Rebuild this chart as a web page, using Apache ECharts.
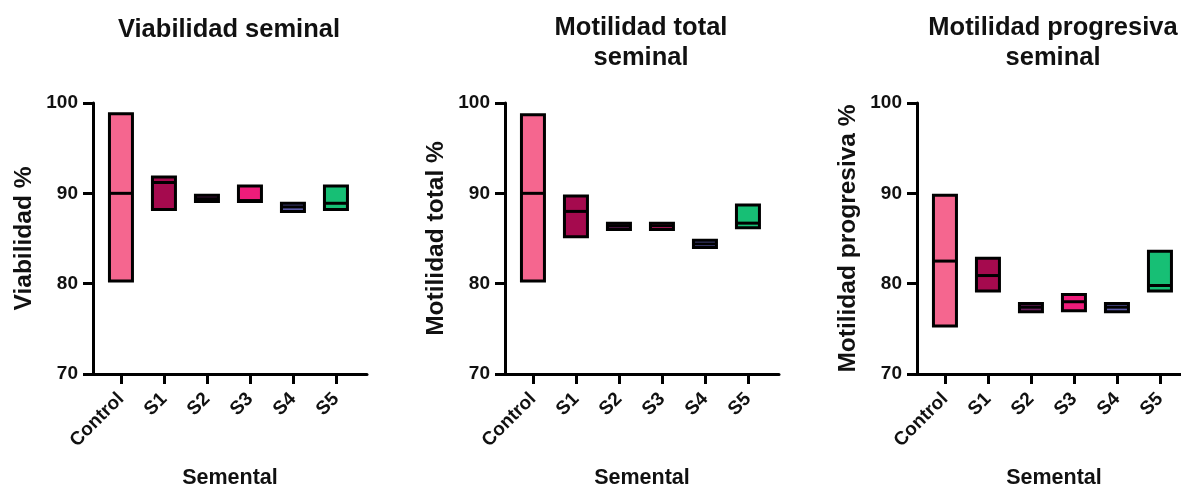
<!DOCTYPE html>
<html>
<head>
<meta charset="utf-8">
<script src="https://cdn.jsdelivr.net/npm/echarts@6/dist/echarts.min.js"></script>
<style>
  html, body { margin: 0; padding: 0; background: #fff; }
  #chart { width: 1181px; height: 490px; }
</style>
</head>
<body>
<div id="chart"></div>
<script>
// categorias y colores de cada semental
const categories = ['Control', 'S1', 'S2', 'S3', 'S4', 'S5'];
const yTicks = [70, 80, 90, 100];

// Viabilidad seminal (min, mediana, max)
const viabLow  = [80.3, 88.2, 89.1, 89.1, 88.0, 88.2];
const viabMed  = [90.0, 91.2, 89.4, 89.2, 88.5, 88.9];
const viabHigh = [98.8, 91.8, 89.8, 90.8, 88.9, 90.8];

// Motilidad total
const motLow  = [80.3, 85.2, 86.0, 86.0, 84.0, 86.2];
const motMed  = [90.0, 88.0, 86.4, 86.4, 84.4, 86.7];
const motHigh = [98.7, 89.7, 86.7, 86.7, 84.8, 88.7];

// Motilidad progresiva
const progLow  = [75.3, 79.2, 76.9, 77.0, 76.9, 79.2];
const progMed  = [82.5, 80.9, 77.4, 78.0, 77.4, 79.8];
const progHigh = [89.8, 82.8, 77.8, 78.8, 77.8, 83.6];

const boxColors = ['#F5668F', '#A50A4E', '#6B1E5E', '#EE1C7A', '#5A5AA8', '#17BF75'];

const FONT = '"Liberation Sans", Arial, sans-serif';
const panels = [
  { title: 'Viabilidad seminal', yName: 'Viabilidad %', low: viabLow, med: viabMed, high: viabHigh, left: 93, top: 10 },
  { title: 'Motilidad total\nseminal', yName: 'Motilidad total %', low: motLow, med: motMed, high: motHigh, left: 505, top: 8 },
  { title: 'Motilidad progresiva\nseminal', yName: 'Motilidad progresiva %', low: progLow, med: progMed, high: progHigh, left: 917, top: 8 }
];

const GRID_W = 274;
const X_MIN = -0.65;
const X_MAX = X_MIN + GRID_W / 43;

// caja flotante: min-max con linea en la mediana
function renderBox(params, api) {
  const i = api.value(0);
  const lo = api.coord([i, api.value(1)]);
  const md = api.coord([i, api.value(2)]);
  const hi = api.coord([i, api.value(3)]);
  const w = 23;
  return {
    type: 'group',
    children: [
      {
        type: 'rect',
        shape: { x: lo[0] - w / 2, y: hi[1], width: w, height: lo[1] - hi[1] },
        style: { fill: boxColors[i], stroke: '#000', lineWidth: 3 }
      },
      {
        type: 'line',
        shape: { x1: lo[0] - w / 2, y1: md[1], x2: lo[0] + w / 2, y2: md[1] },
        style: { stroke: '#000', lineWidth: 3 }
      }
    ]
  };
}

const chart = echarts.init(document.getElementById('chart'), null, { renderer: 'canvas' });

const option = {
  animation: false,
  backgroundColor: '#fff',
  title: panels.map(p => ({
    text: p.title,
    left: p.left + GRID_W / 2 - 6,
    top: p.top,
    textAlign: 'center',
    textStyle: { fontFamily: FONT, fontSize: 25.5, fontWeight: 'bold', color: '#111', lineHeight: 30 }
  })),
  grid: panels.map(p => ({ left: p.left, top: 103, width: GRID_W, height: 271, outerBoundsMode: 'none', containLabel: false })),
  xAxis: panels.map((p, k) => ({
    type: 'value',
    gridIndex: k,
    min: X_MIN,
    max: X_MAX,
    name: 'Semental',
    nameLocation: 'middle',
    nameGap: 93,
    nameTextStyle: { fontFamily: FONT, fontSize: 21.5, fontWeight: 'bold', color: '#111' },
    axisLine: { show: true, onZero: false, lineStyle: { color: '#000', width: 3 } },
    axisTick: { show: true, length: 10, customValues: [0, 1, 2, 3, 4, 5], lineStyle: { color: '#000', width: 3 } },
    axisLabel: {
      customValues: [0, 1, 2, 3, 4, 5],
      rotate: 45,
      margin: 22,
      fontFamily: FONT, fontSize: 19, fontWeight: 'bold', color: '#111',
      formatter: v => categories[v]
    },
    splitLine: { show: false }
  })),
  yAxis: panels.map((p, k) => ({
    type: 'value',
    gridIndex: k,
    min: yTicks[0],
    max: yTicks[yTicks.length - 1],
    interval: 10,
    name: p.yName,
    nameLocation: 'middle',
    nameGap: 56,
    nameRotate: 90,
    nameTextStyle: { fontFamily: FONT, fontSize: 24.5, fontWeight: 'bold', color: '#111' },
    axisLine: { show: true, onZero: false, lineStyle: { color: '#000', width: 3 } },
    axisTick: { show: true, length: 10, lineStyle: { color: '#000', width: 3 } },
    axisLabel: { margin: 15, fontFamily: FONT, fontSize: 19, fontWeight: 'bold', color: '#111' },
    splitLine: { show: false }
  })),
  series: panels.map((p, k) => ({
    type: 'custom',
    xAxisIndex: k,
    yAxisIndex: k,
    renderItem: renderBox,
    encode: { x: 0, y: [1, 2, 3] },
    data: categories.map((c, i) => [i, p.low[i], p.med[i], p.high[i]])
  }))
};

chart.setOption(option);
</script>
</body>
</html>
